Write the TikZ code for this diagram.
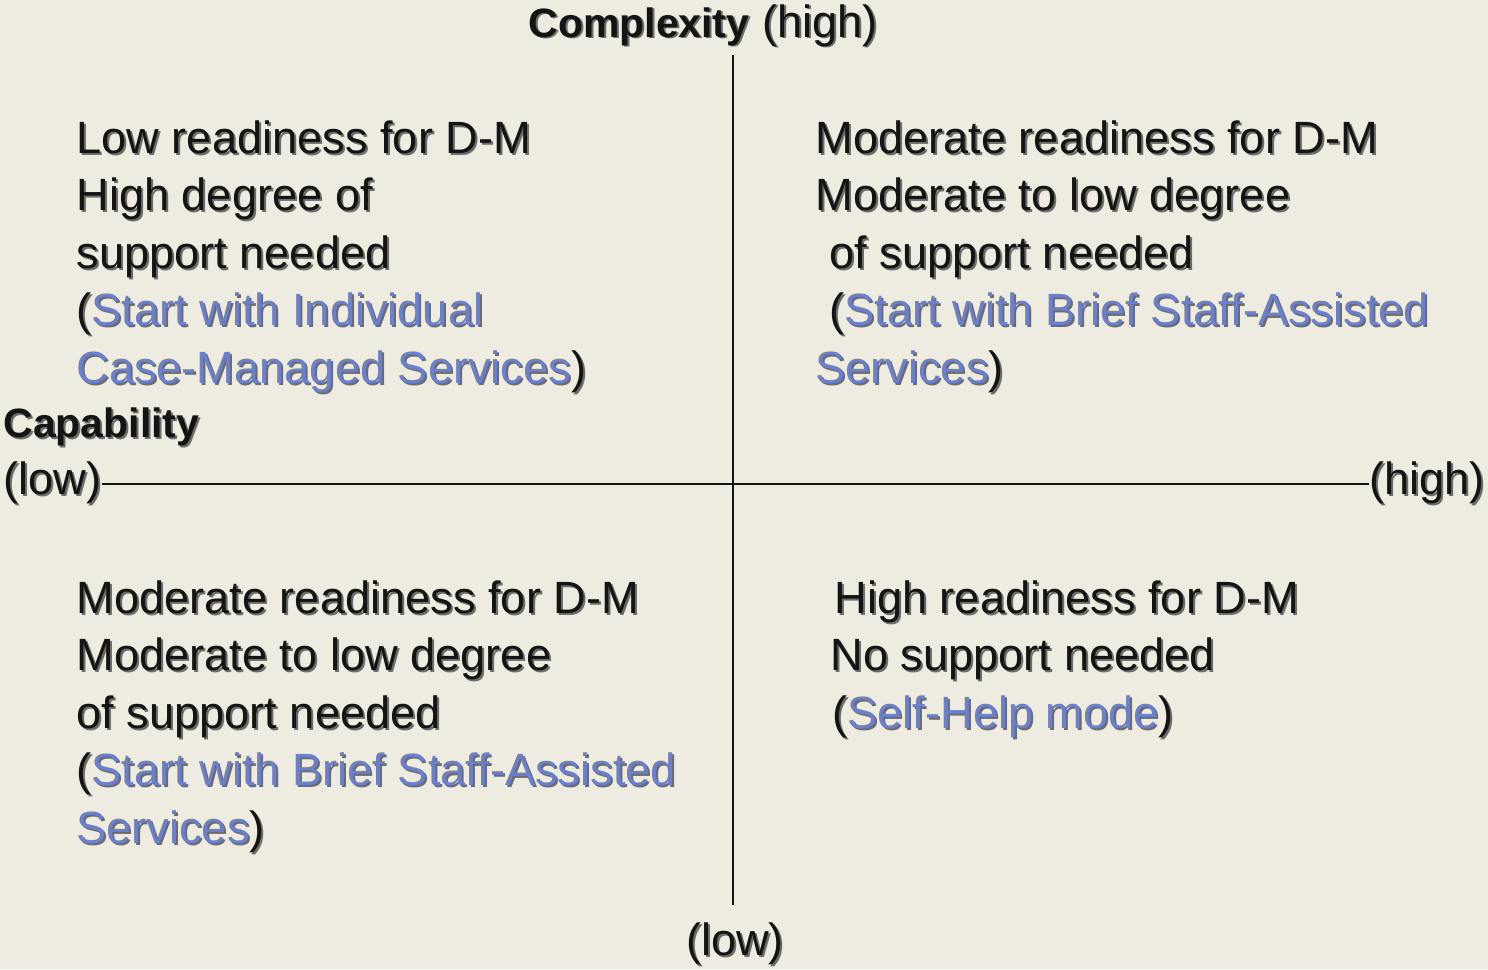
\documentclass[tikz,border=0pt]{standalone}
\usepackage{fontspec}
\setmainfont{Liberation Sans}
\definecolor{bg}{HTML}{EEECE1}
\definecolor{blu}{HTML}{6A80CC}
\definecolor{shd}{HTML}{6E6C66}
\definecolor{ink}{HTML}{141414}
\newcommand\bluecol{blu}
\newcommand\shtext[1]{\leavevmode\rlap{\kern1pt\lower1pt\hbox{\renewcommand\bluecol{shd}\color{shd}#1}}#1}
\newcommand\bl[1]{{\color{\bluecol}#1}}
\tikzset{
  quad/.style={inner sep=0pt, align=left, text=ink, font=\fontsize{22.6}{28.75}\selectfont, anchor=base west},
  axlab/.style={inner sep=0pt, text=ink, font=\fontsize{22.6}{26}\selectfont},
  axis/.style={line width=1pt, draw=ink}
}
\begin{document}
\begin{tikzpicture}[x=0.5pt,y=-0.5pt]
\fill[bg] (0,0) rectangle (1488,969);
\useasboundingbox (0,0) rectangle (1488,969);
% axis labels
\node[axlab, anchor=base] (top) at (703,37) {\shtext{{\bfseries\fontsize{20.5}{24}\selectfont Complexity} (high)}};
\node[axlab, anchor=base] (bot) at (735,955) {\shtext{(low)}};
\node[axlab, anchor=base west] (cap) at (3,437) {\shtext{\bfseries\fontsize{20.5}{24}\selectfont Capability}};
\node[axlab, anchor=west] (lowx) at (3,484) {\shtext{(low)}};
\node[axlab, anchor=east] (highx) at (1485,484) {\shtext{(high)}};
\coordinate (vtop) at (733,55);
\coordinate (vbot) at (733,905);
\draw[axis] (vtop) -- (vbot);
\draw[axis] (lowx.east) -- (highx.west);
% quadrants (base = baseline of last line)
\node[quad] (tl) at (76,383) {\shtext{Low readiness for D-M}\\
\shtext{High degree of}\\
\shtext{support needed}\\
\shtext{(\bl{Start with Individual}}\\
\shtext{\bl{Case-Managed Services})}};
\node[quad] (tr) at (815,383) {\shtext{Moderate readiness for D-M}\\
\shtext{Moderate to low degree}\\
\hspace*{7pt}\shtext{of support needed}\\
\hspace*{7pt}\shtext{(\bl{Start with Brief Staff-Assisted}}\\
\shtext{\bl{Services})}};
\node[quad] (bl) at (76,843) {\shtext{Moderate readiness for D-M}\\
\shtext{Moderate to low degree}\\
\shtext{of support needed}\\
\shtext{(\bl{Start with Brief Staff-Assisted}}\\
\shtext{\bl{Services})}};
\node[quad] (br) at (830,728) {\hspace*{2pt}\shtext{High readiness for D-M}\\
\shtext{No support needed}\\
\hspace*{1pt}\shtext{(\bl{Self-Help mode})}};
\end{tikzpicture}
\end{document}
